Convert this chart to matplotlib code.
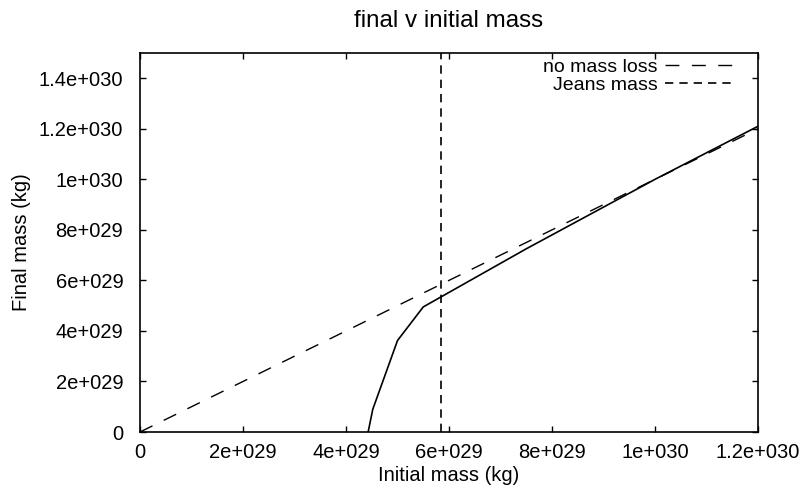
import matplotlib
matplotlib.use("Agg")
import matplotlib.pyplot as plt
from matplotlib.lines import Line2D

# values in kg
initial_mass = [4.43e29, 4.52e29, 5.0e29, 5.5e29, 7.5e29, 1.0e30, 1.2e30]
final_mass = [0.0, 0.9e29, 3.62e29, 4.95e29, 7.25e29, 1.0e30, 1.21e30]
no_loss_x = [0.0, 1.2e30]
no_loss_y = [0.0, 1.2e30]
jeans_mass = 5.84e29

xticks = [0, 2e29, 4e29, 6e29, 8e29, 1e30, 1.2e30]
xtick_labels = ["0", "2e+029", "4e+029", "6e+029", "8e+029", "1e+030", "1.2e+030"]
yticks = [0, 2e29, 4e29, 6e29, 8e29, 1e30, 1.2e30, 1.4e30]
ytick_labels = ["0", "2e+029", "4e+029", "6e+029", "8e+029", "1e+030", "1.2e+030", "1.4e+030"]

plt.rcParams["font.family"] = ["Liberation Sans", "DejaVu Sans"]
plt.rcParams["font.size"] = 14.5

fig = plt.figure(figsize=(8.12, 4.92), dpi=100)
ax = fig.add_axes([140 / 812, 1 - 432 / 492, 618 / 812, 379 / 492])

long_dash = (10, 9)
short_dash = (5, 3.6)

ax.plot(initial_mass, final_mass, color="black", linewidth=1.2)
ax.plot(no_loss_x, no_loss_y, color="black", linewidth=1.0, dashes=long_dash)
ax.axvline(jeans_mass, color="black", linewidth=1.2, dashes=short_dash)

ax.set_xlim(0, 1.2e30)
ax.set_ylim(0, 1.5e30)
ax.set_xticks(xticks)
ax.set_xticklabels(xtick_labels)
ax.set_yticks(yticks)
ax.set_yticklabels(ytick_labels)
ax.tick_params(direction="in", length=4, width=1, top=True, right=True)
ax.tick_params(axis="x", pad=8)
ax.tick_params(axis="y", pad=12)
for spine in ax.spines.values():
    spine.set_linewidth(1.2)

ax.set_xlabel("Initial mass (kg)", labelpad=3)
ax.set_ylabel("Final mass (kg)", labelpad=6)
ax.set_title("final v initial mass", pad=19)

handles = [
    Line2D([], [], color="black", linewidth=1.0, dashes=long_dash),
    Line2D([], [], color="black", linewidth=1.2, dashes=short_dash),
]
ax.legend(
    handles,
    ["no mass loss", "Jeans mass"],
    loc="upper right",
    bbox_to_anchor=(0.963, 0.985),
    frameon=False,
    markerfirst=False,
    fontsize=14,
    borderpad=0,
    borderaxespad=0,
    labelspacing=0.02,
    handlelength=3.6,
    handletextpad=0.4,
)

fig.savefig("out.png", dpi=100)
